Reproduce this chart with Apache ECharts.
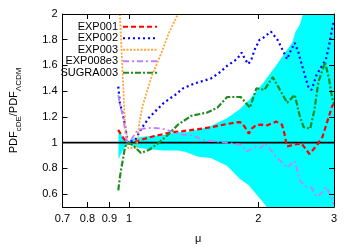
<!DOCTYPE html>
<html><head><meta charset="utf-8">
<script src="https://cdn.jsdelivr.net/npm/echarts@6/dist/echarts.min.js"></script>
<style>html,body{margin:0;padding:0;background:#fff}#c{width:355px;height:249px}</style>
</head><body><div id="c"></div>
<script>
const xTicks = [0.7, 0.8, 0.9, 1, 2, 3];
const yTicks = [0.6, 0.8, 1, 1.2, 1.4, 1.6, 1.8, 2];
const refLevel = 1;

const bandMu   = [0.945, 0.96, 0.975, 0.99, 1.0, 1.02, 1.05, 1.1, 1.2, 1.3, 1.35, 1.45, 1.55, 1.69, 1.81, 1.9, 2.0, 2.06, 2.09, 2.2, 2.4, 2.44, 2.5, 2.54, 3.0];
const bandLow  = [0.87, 0.92, 0.96, 0.98, 0.985, 0.97, 0.96, 0.95, 0.94, 0.94, 0.93, 0.89, 0.88, 0.82, 0.72, 0.67, 0.58, 0.53, 0.5, 0.5, 0.5, 0.5, 0.5, 0.5, 0.5];
const bandHigh = [1.10, 1.06, 1.03, 1.01, 1.01, 1.03, 1.04, 1.05, 1.06, 1.08, 1.08, 1.10, 1.13, 1.19, 1.26, 1.33, 1.42, 1.47, 1.50, 1.60, 1.78, 1.86, 1.92, 2.0, 2.0];

const exp001Mu  = [0.943, 0.968, 0.988, 1.009, 1.06, 1.14, 1.25, 1.337, 1.45, 1.55, 1.69, 1.80, 1.83, 1.87, 1.90, 1.93, 1.98, 2.03, 2.10, 2.20, 2.27, 2.30, 2.33, 2.40, 2.52, 2.63, 2.74, 2.82, 2.89, 2.97, 3.0];
const exp001Val = [1.10, 1.04, 1.00, 0.99, 1.02, 1.05, 1.08, 1.09, 1.105, 1.12, 1.145, 1.16, 1.155, 1.11, 1.07, 1.11, 1.138, 1.14, 1.135, 1.164, 1.14, 1.07, 0.97, 0.982, 0.995, 0.912, 0.982, 1.045, 1.158, 1.285, 1.30];

const exp002Mu  = [0.944, 0.952, 0.969, 0.978, 0.987, 0.993, 1.039, 1.057, 1.074, 1.114, 1.154, 1.205, 1.281, 1.337, 1.421, 1.55, 1.631, 1.692, 1.783, 1.829, 1.862, 1.895, 1.927, 1.962, 2.013, 2.049, 2.14, 2.216, 2.274, 2.334, 2.375, 2.43, 2.48, 2.547, 2.614, 2.66, 2.73, 2.80, 2.873, 2.92, 2.97, 3.0];
const exp002Val = [1.435, 1.31, 1.21, 1.136, 1.06, 1.0, 1.03, 1.083, 1.12, 1.196, 1.247, 1.31, 1.372, 1.423, 1.46, 1.498, 1.549, 1.598, 1.649, 1.70, 1.649, 1.611, 1.649, 1.725, 1.80, 1.813, 1.863, 1.80, 1.725, 1.649, 1.71, 1.775, 1.70, 1.56, 1.435, 1.41, 1.523, 1.586, 1.649, 1.75, 1.888, 1.95];

const exp003Mu  = [0.952, 0.969, 0.978, 0.987, 0.995, 1.004, 1.04, 1.048, 1.057, 1.075, 1.131, 1.19, 1.237, 1.30];
const exp003Val = [2.0, 1.45, 1.16, 1.06, 0.96, 0.955, 0.957, 1.03, 1.158, 1.285, 1.523, 1.70, 1.85, 2.0];

const exp008Mu  = [0.944, 0.952, 0.969, 0.978, 0.987, 0.995, 1.039, 1.075, 1.13, 1.19, 1.25, 1.337, 1.397, 1.497, 1.605, 1.721, 1.829, 1.878, 1.912, 1.979, 2.03, 2.066, 2.121, 2.196, 2.274, 2.334, 2.375, 2.43, 2.46, 2.50, 2.57, 2.66, 2.73, 2.80, 2.873, 2.92, 2.97, 3.0];
const exp008Val = [1.37, 1.30, 1.20, 1.10, 1.02, 0.985, 1.083, 1.108, 1.115, 1.11, 1.09, 1.06, 1.058, 1.02, 1.008, 0.995, 0.982, 0.932, 0.945, 0.97, 0.96, 0.995, 0.957, 0.894, 0.844, 0.806, 0.832, 0.857, 0.794, 0.706, 0.66, 0.65, 0.58, 0.605, 0.655, 0.617, 0.555, 0.52];

const sugraMu  = [0.944, 0.952, 0.96, 0.969, 0.978, 0.987, 1.0, 1.017, 1.066, 1.114, 1.169, 1.229, 1.30, 1.397, 1.52, 1.605, 1.692, 1.82, 1.912, 1.979, 2.066, 2.16, 2.334, 2.43, 2.50, 2.55, 2.64, 2.70, 2.76, 2.86, 2.92, 2.97, 3.0];
const sugraVal = [0.63, 0.73, 0.806, 0.88, 0.96, 0.995, 0.995, 0.985, 0.92, 0.945, 0.995, 1.058, 1.14, 1.209, 1.234, 1.272, 1.355, 1.355, 1.272, 1.423, 1.41, 1.51, 1.31, 1.372, 1.20, 1.121, 1.108, 1.25, 1.473, 1.624, 1.498, 1.347, 1.30];

const lg = v => Math.log10(v);
const pairs = (m, v) => m.map((x, i) => [lg(x), v[i]]);
const FONT = 'Liberation Sans';

const chart = echarts.init(document.getElementById('c'), null, {renderer: 'canvas'});

function lineSeries(name, mu, val, color, dash, width) {
  return {
    name: name, type: 'line', data: pairs(mu, val), symbol: 'none', clip: true,
    lineStyle: {color: color, width: width, type: dash}, itemStyle: {color: color},
    z: 5, animation: false
  };
}

const xMin = lg(xTicks[0]), xMax = lg(xTicks[xTicks.length - 1]);
const axisCommonX = {
  type: 'value', min: xMin, max: xMax,
  axisLine: {show: true, onZero: false, lineStyle: {color: '#000', width: 1}},
  axisTick: {show: true, inside: true, length: 5, customValues: xTicks.map(lg), lineStyle: {color: '#000'}},
  splitLine: {show: false}, z: 10
};
const axisCommonY = {
  type: 'value', min: 0.5, max: 2,
  axisLine: {show: true, onZero: false, lineStyle: {color: '#000', width: 1}},
  axisTick: {show: true, inside: true, length: 5, customValues: yTicks, lineStyle: {color: '#000'}},
  splitLine: {show: false}, z: 10
};

chart.setOption({
  animation: false,
  grid: {left: 56, right: 21, top: 14, bottom: 37, containLabel: false},
  legend: {
    data: ['EXP001', 'EXP002', 'EXP003', 'EXP008e3', 'SUGRA003'],
    orient: 'vertical', align: 'right', right: 197, top: 21, padding: 0,
    itemWidth: 34, itemHeight: 8, itemGap: 0,
    itemStyle: {opacity: 0, borderWidth: 0},
    textStyle: {fontFamily: FONT, fontSize: 11, color: '#000', lineHeight: 11.5}
  },
  xAxis: [
    Object.assign({}, axisCommonX, {
      position: 'bottom',
      axisLabel: {show: true, customValues: xTicks.map(lg), margin: 6, fontFamily: FONT, fontSize: 11, color: '#000',
        formatter: v => String(Math.round(Math.pow(10, v) * 100) / 100)},
      name: 'μ', nameLocation: 'middle', nameGap: 26,
      nameTextStyle: {fontFamily: FONT, fontSize: 11, color: '#000'}
    }),
    Object.assign({}, axisCommonX, {position: 'top', axisLabel: {show: false}})
  ],
  yAxis: [
    Object.assign({}, axisCommonY, {
      position: 'left',
      axisLabel: {show: true, customValues: yTicks, margin: 5, fontFamily: FONT, fontSize: 11, color: '#000',
        formatter: v => String(Math.round(v * 10) / 10)},
      name: '{a|PDF}{b|cDE}{a|/PDF}{b|ΛCDM}', nameLocation: 'middle', nameGap: 40, nameRotate: 90,
      nameTextStyle: {fontFamily: FONT, fontSize: 11, color: '#000',
        rich: {
          a: {fontFamily: FONT, fontSize: 11, color: '#000', lineHeight: 18},
          b: {fontFamily: FONT, fontSize: 8, color: '#000', lineHeight: 8, verticalAlign: 'bottom'}
        }}
    }),
    Object.assign({}, axisCommonY, {position: 'right', axisLabel: {show: false}})
  ],
  series: [
    {
      type: 'custom', name: 'band', z: 1, silent: true,
      data: bandMu.map((m, i) => [lg(m), bandLow[i], bandHigh[i]]),
      encode: {x: 0, y: [1, 2]},
      renderItem: function (params, api) {
        if (params.dataIndex !== 0) return null;
        const pts = [];
        for (let i = 0; i < bandMu.length; i++) pts.push(api.coord([lg(bandMu[i]), bandHigh[i]]));
        for (let i = bandMu.length - 1; i >= 0; i--) pts.push(api.coord([lg(bandMu[i]), bandLow[i]]));
        return {type: 'polygon', shape: {points: pts}, style: {fill: '#00ffff', stroke: null}};
      }
    },
    {
      type: 'line', name: 'ref', data: [[xMin, refLevel], [xMax, refLevel]], symbol: 'none', z: 4,
      lineStyle: {color: '#000', width: 1.6, type: 'solid'}, silent: true
    },
    lineSeries('EXP001', exp001Mu, exp001Val, '#ff0000', [5, 3], 2.2),
    lineSeries('EXP002', exp002Mu, exp002Val, '#0000ff', [2, 3], 2.2),
    lineSeries('EXP003', exp003Mu, exp003Val, '#ffa63a', [2, 1.5], 1.8),
    lineSeries('EXP008e3', exp008Mu, exp008Val, '#c080ff', [6, 3, 2, 3], 1.8),
    lineSeries('SUGRA003', sugraMu, sugraVal, '#228b22', [6, 2, 2, 2], 2.2)
  ]
});
</script>
</body></html>
